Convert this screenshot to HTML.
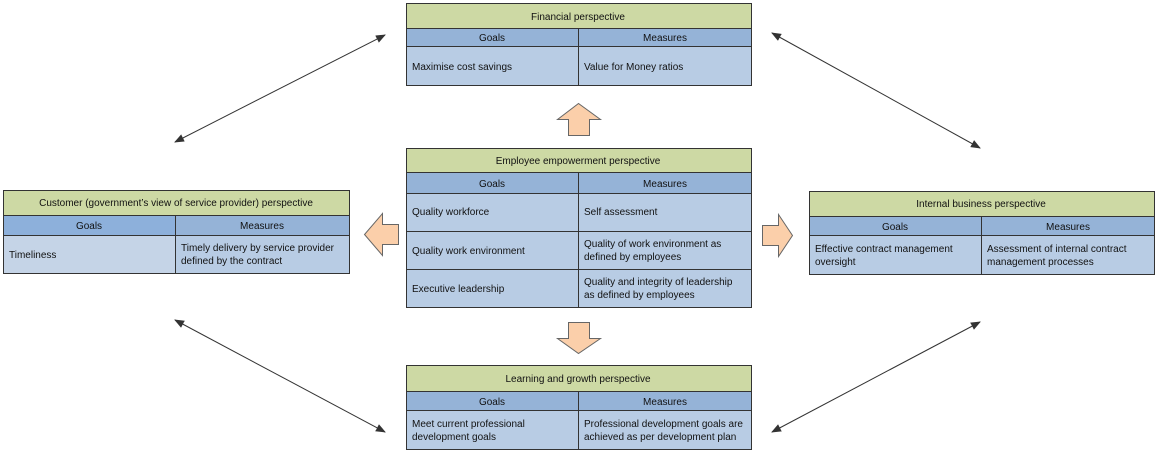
<!DOCTYPE html>
<html><head><meta charset="utf-8"><style>
html,body{margin:0;padding:0;background:#fff;width:1158px;height:453px;overflow:hidden}
svg text{font-family:"Liberation Sans",sans-serif;font-size:10px;fill:#111}
.t{fill:#cdd9a4;stroke:#333;stroke-width:1}
.h{fill:#95b3d7;stroke:#333;stroke-width:1}
.b{fill:#b8cce4;stroke:#333;stroke-width:1}
.bl{fill:#c5d4e7;stroke:#333;stroke-width:1}
.ar{fill:#fbcfaa;stroke:#666;stroke-width:1}
.ln{stroke:#333;stroke-width:1}
</style></head><body>
<svg width="1158" height="453" viewBox="0 0 1158 453" xmlns="http://www.w3.org/2000/svg">
<defs><marker id="m" markerWidth="10" markerHeight="8" refX="9" refY="4" orient="auto-start-reverse" markerUnits="userSpaceOnUse"><path d="M0,0 L10,4 L0,8 z" fill="#333"/></marker></defs>

<!-- Financial -->
<rect class="t" x="406.5" y="3.5" width="345" height="25"/>
<text x="578" y="20" text-anchor="middle">Financial perspective</text>
<rect class="h" x="406.5" y="28.5" width="172" height="18"/><rect class="h" x="578.5" y="28.5" width="173" height="18"/>
<text x="492" y="41" text-anchor="middle">Goals</text><text x="665" y="41" text-anchor="middle">Measures</text>
<rect class="b" x="406.5" y="46.5" width="172" height="39"/><rect class="b" x="578.5" y="46.5" width="173" height="39"/>
<text x="412" y="70">Maximise cost savings</text><text x="584" y="70">Value for Money ratios</text>

<!-- Employee -->
<rect class="t" x="406.5" y="148.5" width="345" height="24"/>
<text x="578" y="164" text-anchor="middle">Employee empowerment perspective</text>
<rect class="h" x="406.5" y="172.5" width="172" height="21"/><rect class="h" x="578.5" y="172.5" width="173" height="21"/>
<text x="492" y="187" text-anchor="middle">Goals</text><text x="665" y="187" text-anchor="middle">Measures</text>
<rect class="b" x="406.5" y="193.5" width="172" height="38"/><rect class="b" x="578.5" y="193.5" width="173" height="38"/>
<rect class="b" x="406.5" y="231.5" width="172" height="38"/><rect class="b" x="578.5" y="231.5" width="173" height="38"/>
<rect class="b" x="406.5" y="269.5" width="172" height="38"/><rect class="b" x="578.5" y="269.5" width="173" height="38"/>
<text x="412" y="215">Quality workforce</text><text x="584" y="215">Self assessment</text>
<text x="412" y="254">Quality work environment</text><text x="584" y="247">Quality of work environment as</text><text x="584" y="260">defined by employees</text>
<text x="412" y="292">Executive leadership</text><text x="584" y="285">Quality and integrity of leadership</text><text x="584" y="298">as defined by employees</text>

<!-- Customer -->
<rect class="t" x="3.5" y="190.5" width="346" height="25"/>
<text x="176" y="206" text-anchor="middle">Customer (government’s view of service provider) perspective</text>
<rect class="h" x="3.5" y="215.5" width="172" height="20" style="fill:#8db0db"/><rect class="h" x="175.5" y="215.5" width="174" height="20"/>
<text x="89" y="229" text-anchor="middle">Goals</text><text x="262" y="229" text-anchor="middle">Measures</text>
<rect class="bl" x="3.5" y="235.5" width="172" height="38"/><rect class="b" x="175.5" y="235.5" width="174" height="38"/>
<text x="9" y="258">Timeliness</text><text x="181" y="251">Timely delivery by service provider</text><text x="181" y="264">defined by the contract</text>

<!-- Internal -->
<rect class="t" x="809.5" y="191.5" width="345" height="25"/>
<text x="981" y="207" text-anchor="middle">Internal business perspective</text>
<rect class="h" x="809.5" y="216.5" width="172" height="19"/><rect class="h" x="981.5" y="216.5" width="173" height="19"/>
<text x="895" y="230" text-anchor="middle">Goals</text><text x="1068" y="230" text-anchor="middle">Measures</text>
<rect class="b" x="809.5" y="235.5" width="172" height="39"/><rect class="b" x="981.5" y="235.5" width="173" height="39"/>
<text x="815" y="252">Effective contract management</text><text x="815" y="265">oversight</text>
<text x="987" y="252">Assessment of internal contract</text><text x="987" y="265">management processes</text>

<!-- Learning -->
<rect class="t" x="406.5" y="365.5" width="345" height="26"/>
<text x="578" y="382" text-anchor="middle">Learning and growth perspective</text>
<rect class="h" x="406.5" y="391.5" width="172" height="19"/><rect class="h" x="578.5" y="391.5" width="173" height="19"/>
<text x="492" y="405" text-anchor="middle">Goals</text><text x="665" y="405" text-anchor="middle">Measures</text>
<rect class="b" x="406.5" y="410.5" width="172" height="39"/><rect class="b" x="578.5" y="410.5" width="173" height="39"/>
<text x="412" y="427">Meet current  professional</text><text x="412" y="440">development goals</text>
<text x="584" y="427">Professional development goals are</text><text x="584" y="440">achieved as per development plan</text>

<!-- block arrows -->
<path class="ar" d="M568.5,135.5 L568.5,119.5 L557.5,119.5 L578.5,103.5 L600.5,119.5 L589.5,119.5 L589.5,135.5 Z"/>
<path class="ar" d="M568.5,322.5 L589.5,322.5 L589.5,338.5 L600.5,338.5 L578.5,353.5 L557.5,338.5 L568.5,338.5 Z"/>
<path class="ar" d="M398.5,224.5 L382.5,224.5 L382.5,213.5 L364.5,234.5 L382.5,255.5 L382.5,244.5 L398.5,244.5 Z"/>
<path class="ar" d="M762.5,225.5 L778.5,225.5 L778.5,214.5 L792.5,235.5 L778.5,256.5 L778.5,245.5 L762.5,245.5 Z"/>

<!-- double arrows -->
<line class="ln" x1="175" y1="142" x2="385" y2="35" marker-start="url(#m)" marker-end="url(#m)"/>
<line class="ln" x1="772" y1="33" x2="980" y2="148" marker-start="url(#m)" marker-end="url(#m)"/>
<line class="ln" x1="175" y1="320" x2="385" y2="432" marker-start="url(#m)" marker-end="url(#m)"/>
<line class="ln" x1="772" y1="432" x2="980" y2="322" marker-start="url(#m)" marker-end="url(#m)"/>
</svg>
</body></html>
